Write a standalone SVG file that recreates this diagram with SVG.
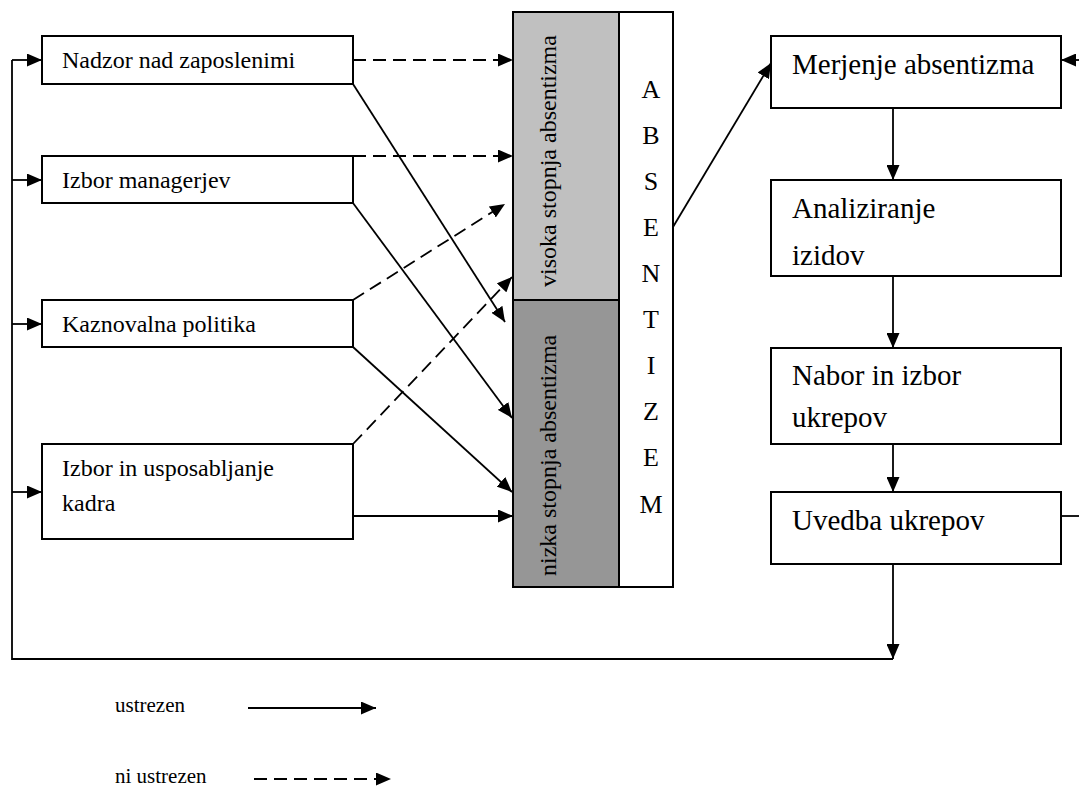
<svg xmlns="http://www.w3.org/2000/svg" width="1079" height="787" viewBox="0 0 1079 787">
  <defs>
    <marker id="arrow" markerUnits="userSpaceOnUse" markerWidth="15" markerHeight="13" refX="15" refY="6.5" orient="auto">
      <path d="M0,0 L15,6.5 L0,13 z" fill="#000"/>
    </marker>
    <style>
      .box { fill: #fff; stroke: #000; stroke-width: 2; }
      .lbl { font-family: "Liberation Serif", "Times New Roman", serif; fill: #000; }
      .small { font-size: 24px; }
      .big { font-size: 29px; }
      .legend { font-size: 21px; }
      .letter { font-size: 26px; text-anchor: middle; }
      .line { fill: none; stroke: #000; stroke-width: 1.8; }
      .arr { marker-end: url(#arrow); }
      .dash { stroke-dasharray: 13 7; }
    </style>
  </defs>

  <rect width="1079" height="787" fill="#fff"/>

  <!-- connectors -->
  <g id="connectors">
    <!-- feedback bus on the left -->
    <polyline class="line" points="893,659 12,659 12,60"/>
    <line class="line arr" x1="12" y1="60" x2="42" y2="60"/>
    <line class="line arr" x1="12" y1="180" x2="42" y2="180"/>
    <line class="line arr" x1="12" y1="324" x2="42" y2="324"/>
    <line class="line arr" x1="12" y1="492" x2="42" y2="492"/>

    <!-- factors to absenteeism levels -->
    <line class="line dash arr" x1="353" y1="60" x2="513" y2="60"/>
    <line class="line dash arr" x1="353" y1="156" x2="513" y2="156"/>
    <line class="line dash arr" x1="353" y1="300" x2="505" y2="204"/>
    <line class="line dash arr" x1="353" y1="444" x2="512" y2="277"/>
    <line class="line arr" x1="353" y1="84" x2="505" y2="322"/>
    <line class="line arr" x1="353" y1="203" x2="512" y2="418"/>
    <line class="line arr" x1="353" y1="347" x2="512" y2="492"/>
    <line class="line arr" x1="353" y1="516" x2="513" y2="516"/>

    <!-- absenteeism to measurement -->
    <line class="line arr" x1="673" y1="227" x2="771" y2="63"/>

    <!-- process chain -->
    <line class="line arr" x1="893" y1="108" x2="893" y2="180"/>
    <line class="line arr" x1="893" y1="276" x2="893" y2="348"/>
    <line class="line arr" x1="893" y1="444" x2="893" y2="492"/>
    <line class="line arr" x1="893" y1="564" x2="893" y2="659"/>

    <!-- return loop on the right -->
    <line class="line" x1="1061" y1="516" x2="1079" y2="516"/>
    <line class="line arr" x1="1079" y1="60" x2="1061" y2="60"/>
  </g>

  <!-- factor boxes -->
  <g id="nadzor">
    <rect class="box" x="42" y="36" width="311" height="48"/>
    <text class="lbl small" x="62" y="68">Nadzor nad zaposlenimi</text>
  </g>
  <g id="izbor-managerjev">
    <rect class="box" x="42" y="156" width="311" height="47"/>
    <text class="lbl small" x="62" y="188">Izbor managerjev</text>
  </g>
  <g id="kaznovalna">
    <rect class="box" x="42" y="300" width="311" height="47"/>
    <text class="lbl small" x="62" y="332">Kaznovalna politika</text>
  </g>
  <g id="izbor-kadra">
    <rect class="box" x="42" y="444" width="311" height="95"/>
    <text class="lbl small" x="62" y="476">Izbor in usposabljanje</text>
    <text class="lbl small" x="62" y="511">kadra</text>
  </g>

  <!-- absenteeism column -->
  <g id="absentizem">
    <rect x="513" y="12" width="106" height="288" fill="#c0c0c0" stroke="#000" stroke-width="2"/>
    <rect x="513" y="300" width="106" height="287" fill="#969696" stroke="#000" stroke-width="2"/>
    <rect x="619" y="12" width="54" height="575" fill="#fff" stroke="#000" stroke-width="2"/>
    <text class="lbl small" transform="translate(556,287) rotate(-90)">visoka stopnja absentizma</text>
    <text class="lbl small" transform="translate(556,576) rotate(-90)">nizka stopnja absentizma</text>
    <text class="lbl letter" x="651" y="98">A</text>
    <text class="lbl letter" x="651" y="144">B</text>
    <text class="lbl letter" x="651" y="190">S</text>
    <text class="lbl letter" x="651" y="236">E</text>
    <text class="lbl letter" x="651" y="282">N</text>
    <text class="lbl letter" x="651" y="328">T</text>
    <text class="lbl letter" x="651" y="374">I</text>
    <text class="lbl letter" x="651" y="420">Z</text>
    <text class="lbl letter" x="651" y="466">E</text>
    <text class="lbl letter" x="651" y="513">M</text>
  </g>

  <!-- process boxes -->
  <g id="merjenje">
    <rect class="box" x="771" y="36" width="290" height="72"/>
    <text class="lbl big" x="792" y="74">Merjenje absentizma</text>
  </g>
  <g id="analiziranje">
    <rect class="box" x="771" y="180" width="290" height="96"/>
    <text class="lbl big" x="792" y="218">Analiziranje</text>
    <text class="lbl big" x="792" y="265">izidov</text>
  </g>
  <g id="nabor">
    <rect class="box" x="771" y="348" width="290" height="96"/>
    <text class="lbl big" x="792" y="385">Nabor in izbor</text>
    <text class="lbl big" x="792" y="427">ukrepov</text>
  </g>
  <g id="uvedba">
    <rect class="box" x="771" y="492" width="290" height="72"/>
    <text class="lbl big" x="792" y="530">Uvedba ukrepov</text>
  </g>

  <!-- legend -->
  <g id="legend">
    <text class="lbl legend" x="115" y="712">ustrezen</text>
    <line class="line arr" x1="248" y1="708" x2="376" y2="708"/>
    <text class="lbl legend" x="115" y="783">ni ustrezen</text>
    <line class="line dash arr" x1="254" y1="779" x2="391" y2="779"/>
  </g>
</svg>
